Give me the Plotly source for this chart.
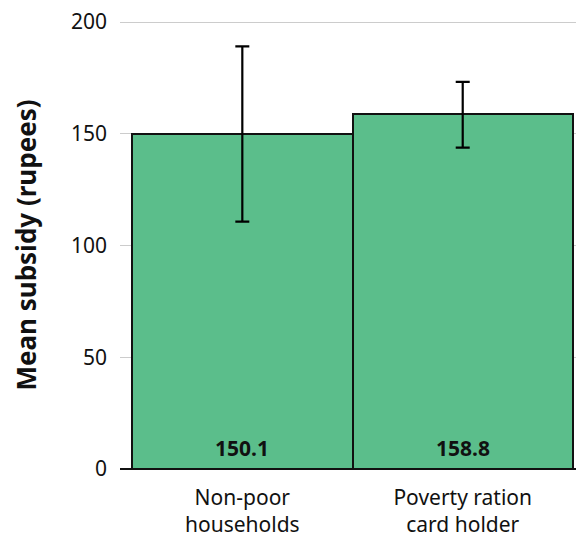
import plotly.graph_objects as go

categories = ["Non-poor<br>households", "Poverty ration<br>card holder"]
means = [150.1, 158.8]
err_plus = [39.0, 14.5]
err_minus = [39.4, 15.0]
labels = ["150.1", "158.8"]
yticks = [0, 50, 100, 150, 200]

FONT = "Noto Sans"
INK = "#111111"

fig = go.Figure()
fig.add_trace(go.Bar(
    x=[0, 1], y=means, width=1.0,
    marker=dict(color="#5bbe8b", line=dict(color=INK, width=2)),
    error_y=dict(type="data", symmetric=False, array=err_plus, arrayminus=err_minus,
                 color="#000000", thickness=2.2, width=7),
    hoverinfo="skip",
))
for i, (lab, v) in enumerate(zip(labels, means)):
    fig.add_annotation(x=i, y=0, text=f"<b>{lab}</b>", showarrow=False,
                       yanchor="middle", yshift=21,
                       font=dict(family=FONT, size=21, color=INK))

fig.update_layout(
    width=576, height=537,
    margin=dict(l=120, r=0, t=21, b=68),
    plot_bgcolor="white", paper_bgcolor="white",
    showlegend=False,
    font=dict(family=FONT, size=21, color=INK),
    bargap=0,
)
fig.update_xaxes(
    range=[-0.555, 1.514], tickvals=[0, 1], ticktext=categories,
    showgrid=False, showline=False, ticks="", zeroline=False,
    ticklabelstandoff=14, automargin=False,
    tickfont=dict(family=FONT, size=21, color=INK),
)
fig.update_yaxes(
    range=[0, 200.5], tickvals=yticks, showgrid=True, gridcolor="#cccccc", gridwidth=1,
    zeroline=True, zerolinecolor=INK, zerolinewidth=2,
    ticks="", ticklabelstandoff=12, automargin=False,
    title=dict(text="<b>Mean subsidy (rupees)</b>", font=dict(family=FONT, size=26, color=INK), standoff=26),
    tickfont=dict(family=FONT, size=21, color=INK),
)
fig.write_html("out.html", config={"displayModeBar": False},
               post_script="document.body.style.margin='0px';")
